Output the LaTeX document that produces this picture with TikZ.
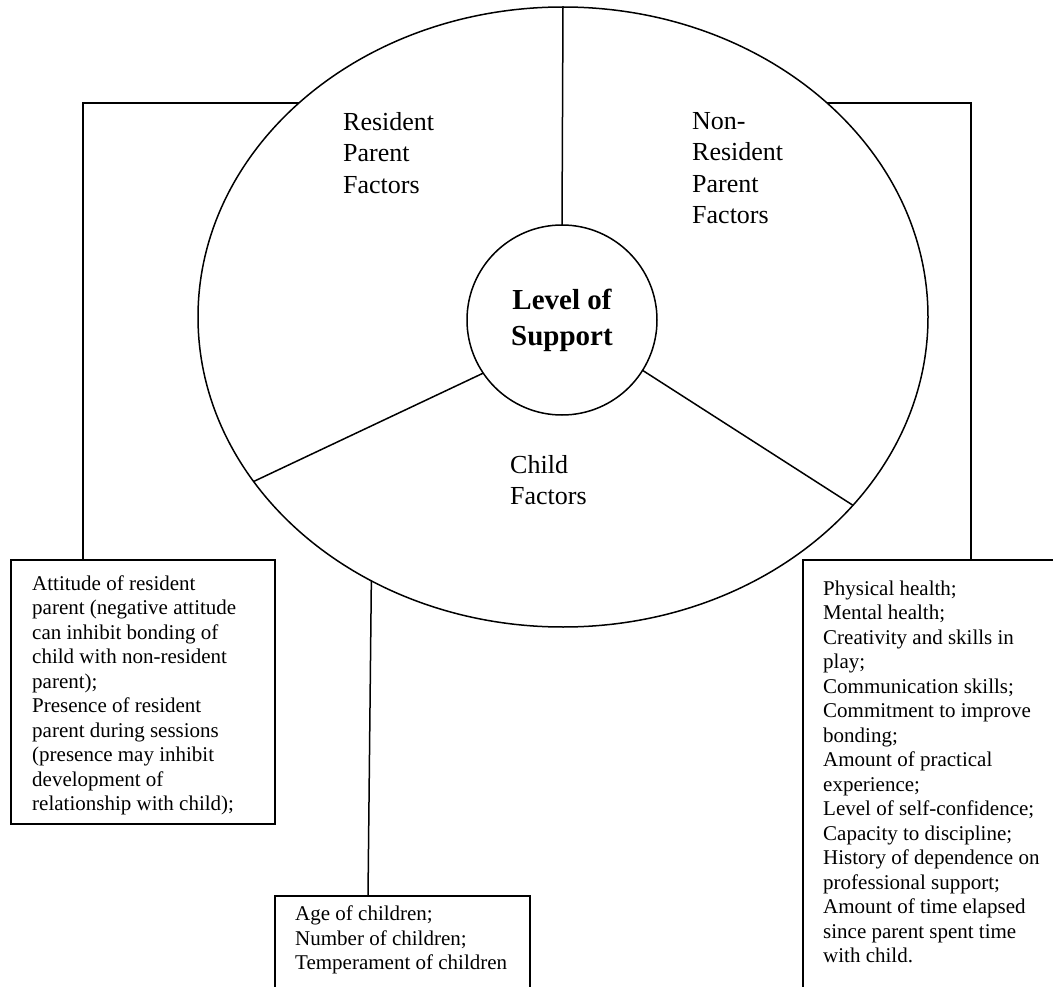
\documentclass[tikz,border=0pt]{standalone}
\usepackage{fontspec}
\setmainfont{Liberation Serif}
\usetikzlibrary{shapes.geometric}

\begin{document}
\begin{tikzpicture}[x=1pt, y=-1pt,
	rim/.style={draw, ellipse, line width=1.5pt, inner sep=0pt, outer sep=0pt, minimum width=730pt, minimum height=620pt},
	hub/.style={draw, circle, line width=1.5pt, inner sep=0pt, outer sep=0pt, minimum size=190pt, align=center, font=\fontsize{29}{36}\selectfont\bfseries},
	sector/.style={align=left, inner sep=0pt, anchor=north west, font=\fontsize{26}{31.5}\selectfont},
	factbox/.style={draw, line width=1.5pt, inner sep=0pt, outer sep=0pt, anchor=north west},
	facts/.style={align=left, inner sep=0pt, anchor=north west, font=\fontsize{21}{24.5}\selectfont},
	link/.style={line width=1.5pt}]
	\useasboundingbox (0,0) rectangle (1053,987);

	\node[rim] (wheel) at (563,317) {};
	\node[hub] (hub) at (562,320) {Level of\\Support};

	\node[sector] (resident) at (343,112) {Resident\\Parent\\Factors};
	\node[sector] (nonresident) at (692,112) {Non-\\Resident\\Parent\\Factors};
	\node[sector] (child) at (510,455) {Child\\Factors};

	\draw[link] (wheel.north) -- (hub.north);
	\draw[link] (hub.214) -- (wheel.208.5);
	\draw[link] (hub.-32) -- (wheel.-33.6);

	\node[factbox, minimum width=264pt, minimum height=264pt] (rpbox) at (11,560) {};
	\node[facts] (rptext) at (32,575.5) {Attitude of resident\\parent (negative attitude\\can inhibit bonding of\\child with non-resident\\parent);\\Presence of resident\\parent during sessions\\(presence may inhibit\\development of\\relationship with child);};

	\node[factbox, minimum width=255pt, minimum height=110pt] (chbox) at (275,896) {};
	\node[facts] (chtext) at (295,906) {Age of children;\\Number of children;\\Temperament of children};

	\node[factbox, minimum width=280pt, minimum height=450pt] (nrbox) at (803,560) {};
	\node[facts] (nrtext) at (823,580.5) {Physical health;\\Mental health;\\Creativity and skills in\\play;\\Communication skills;\\Commitment to improve\\bonding;\\Amount of practical\\experience;\\Level of self-confidence;\\Capacity to discipline;\\History of dependence on\\professional support;\\Amount of time elapsed\\since parent spent time\\with child.};

	\coordinate (rpfoot) at (83,560);
	\coordinate (nrfoot) at (971,560);
	\coordinate (chfoot) at (368,896);
	\draw[link] (wheel.141) -| (rpfoot);
	\draw[link] (wheel.39) -| (nrfoot);
	\draw[link] (wheel.234.3) -- (chfoot);
\end{tikzpicture}
\end{document}
